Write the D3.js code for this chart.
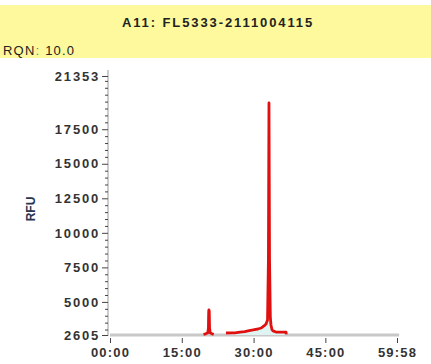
<!DOCTYPE html>
<html>
<head>
<meta charset="utf-8">
<script src="https://cdn.jsdelivr.net/npm/d3@7"></script>
<style>
  html, body { margin: 0; padding: 0; background: #fff; }
  svg { display: block; font-family: "Liberation Sans", Arial, sans-serif; }
</style>
</head>
<body>
<svg id="chart" width="431" height="364"></svg>
<script>
// sample / header
const title = 'A11: FL5333-2111004115';
const rqnValue = '10.0';

// axis ticks
const yTicks = [2605, 5000, 7500, 10000, 12500, 15000, 17500, 21353];
const xTicks = [0, 900, 1800, 2700, 3598];
const xTickLabels = ['00:00', '15:00', '30:00', '45:00', '59:58'];

// gray full trace (baseline)
const baseTimes = [0, 3625];
const baseRfu = [2605, 2605];

// red trace: small marker peak
const peak1Times = [1172, 1200, 1225, 1234, 1236, 1238, 1240, 1244, 1248, 1256, 1280, 1300];
const peak1Rfu = [2650, 2690, 2760, 3100, 3900, 4350, 4420, 4350, 3100, 2760, 2690, 2650];

// red trace: main smear region
const peak2Times = [1454, 1567, 1630, 1690, 1730, 1793, 1830, 1855, 1893, 1915, 1931, 1956, 1975, 1986, 1993, 2000, 2010, 2018, 2030, 2044, 2081, 2207, 2210];
const peak2Rfu = [2750, 2760, 2820, 2850, 2895, 2970, 3020, 3040, 3110, 3200, 3260, 3400, 3690, 8000, 19400, 8000, 3900, 3330, 3000, 2900, 2820, 2820, 2650];

const svg = d3.select('#chart');

// header band
svg.append('rect').attr('x', 0).attr('y', 5).attr('width', 431).attr('height', 53).attr('fill', '#fdf99c');
svg.append('text').attr('x', 218).attr('y', 27).attr('text-anchor', 'middle')
  .attr('font-size', 13).attr('font-weight', 'bold').attr('fill', '#222')
  .attr('letter-spacing', 1.9).text(title);
const rqn = svg.append('text').attr('x', 3).attr('y', 55).attr('font-size', 13)
  .attr('fill', '#222').attr('letter-spacing', 1.2);
rqn.append('tspan').text('RQN');
rqn.append('tspan').attr('fill', '#2a9a8a').text(': ');
rqn.append('tspan').text(rqnValue);

const x = d3.scaleLinear().domain([0, 3598]).range([110, 397]);
const y = d3.scaleLinear().domain([2605, 21353]).range([335, 76]);

// y axis
const yAxis = svg.append('g').attr('transform', 'translate(108,0)')
  .call(d3.axisLeft(y).tickValues(yTicks).tickSize(6).tickPadding(2).tickFormat(d3.format('d')));
yAxis.select('.domain').attr('stroke', '#999').attr('d', 'M0,70V336');
yAxis.selectAll('.tick line').attr('stroke', '#444');
yAxis.selectAll('.tick text').attr('font-size', 13).attr('font-weight', 'bold')
  .attr('fill', '#333').attr('letter-spacing', 1.8)
  .attr('font-family', '"Liberation Sans", Arial, sans-serif');

const minor = d3.range(3000, 21353, 500).filter((v) => !yTicks.includes(v));
const yMinor = svg.append('g').attr('transform', 'translate(108,0)')
  .call(d3.axisLeft(y).tickValues(minor).tickSize(3).tickFormat(''));
yMinor.select('.domain').remove();
yMinor.selectAll('.tick line').attr('stroke', '#444');

svg.append('text').attr('transform', 'translate(35,209) rotate(-90)').attr('text-anchor', 'middle')
  .attr('font-size', 12).attr('font-weight', 'bold').attr('fill', '#2b3550').text('RFU');

// x axis
const xAxis = svg.append('g').attr('transform', 'translate(0,338)')
  .call(d3.axisBottom(x).tickValues(xTicks).tickSize(5).tickPadding(5)
    .tickFormat((d, i) => xTickLabels[i]));
xAxis.select('.domain').remove();
xAxis.selectAll('.tick line').attr('stroke', '#444');
xAxis.selectAll('.tick text').attr('font-size', 13).attr('font-weight', 'bold')
  .attr('fill', '#333').attr('letter-spacing', 1.2)
  .attr('font-family', '"Liberation Sans", Arial, sans-serif');

const line = d3.line().x((d) => x(d[0])).y((d) => y(d[1]));

// gray baseline trace
svg.append('path').datum(d3.zip(baseTimes, baseRfu))
  .attr('fill', 'none').attr('stroke', '#c8c8c8').attr('stroke-width', 3).attr('d', line);

// faint fill under main region
const area = d3.area().x((d) => x(d[0])).y0(y(2605)).y1((d) => y(d[1]));
svg.append('path').datum(d3.zip(peak2Times, peak2Rfu).filter((d) => d[1] < 5000))
  .attr('fill', '#dff3f3').attr('d', area);

for (const [t, v] of [[peak1Times, peak1Rfu], [peak2Times, peak2Rfu]]) {
  svg.append('path').datum(d3.zip(t, v))
    .attr('fill', 'none').attr('stroke', '#e01010').attr('stroke-width', 2.8)
    .attr('stroke-linejoin', 'round').attr('d', line);
}
</script>
</body>
</html>
